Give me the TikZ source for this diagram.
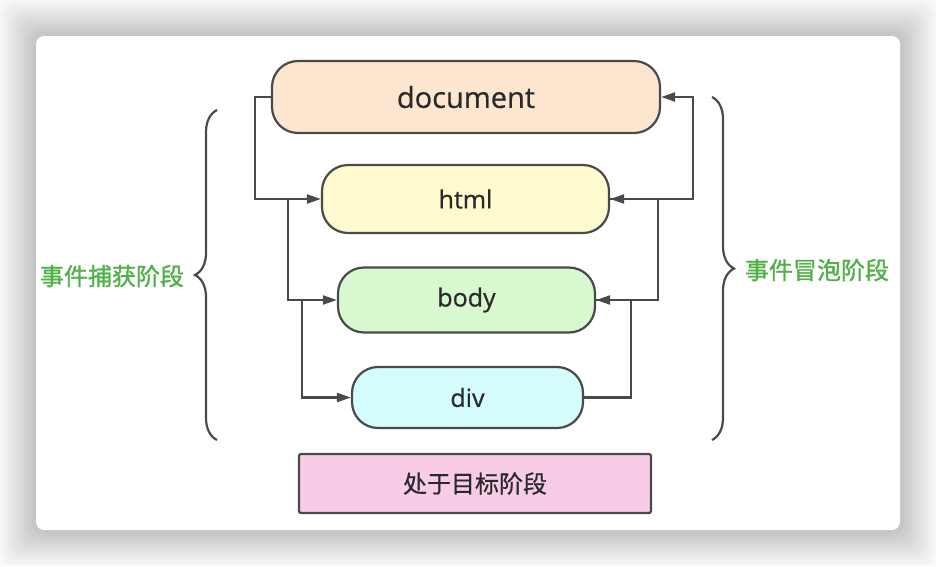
\documentclass[tikz,border=0pt]{standalone}
\usepackage{fontspec}
\setmainfont{Open Sans}[FakeBold=0.6]
\newfontfamily\cjk{Noto Sans CJK SC}[FakeBold=0.6]
\newfontfamily\cjkbold{Noto Sans CJK SC}[FakeBold=1.4]
\usetikzlibrary{arrows.meta, decorations.pathreplacing}
\definecolor{docfill}{HTML}{FCE6D0}
\definecolor{htmlfill}{HTML}{FFFAD0}
\definecolor{bodyfill}{HTML}{D8F8D0}
\definecolor{divfill}{HTML}{D4FCFC}
\definecolor{tgtfill}{HTML}{F8CCE6}
\definecolor{linegray}{HTML}{4A4A4A}
\definecolor{textgray}{HTML}{2A2A2A}
\definecolor{phasegreen}{HTML}{52B048}

\begin{document}
\begin{tikzpicture}[x=1pt, y=-1pt, >={Triangle[length=14pt,width=9pt]},
    box/.style={draw=linegray, line width=2.2pt, rounded corners=26pt, inner sep=0pt, text=textgray},
    link/.style={draw=linegray, line width=2.2pt},
    phase/.style={text=phasegreen, font=\cjkbold\fontsize{24}{24}\selectfont},
    bracket/.style={draw=linegray, line width=2.2pt, decorate, decoration={brace, amplitude=22pt}}]
    % 背景与卡片
    \useasboundingbox (0,0) rectangle (936,566);
    \fill[gray!4] (0,0) rectangle (936,566);
    \foreach \d in {2,4,...,36}
        \fill[black, opacity=0.011, rounded corners=12pt] ({36-\d},{36-\d}) rectangle ({900+\d},{530+\d});
    \fill[white, rounded corners=8pt] (36,36) rectangle (900,530);

    % 节点
    \node[box, fill=docfill, minimum width=388pt, minimum height=72pt, font=\fontsize{29}{29}\selectfont] (doc) at (466,97) {document};
    \node[box, fill=htmlfill, minimum width=287pt, minimum height=68pt, font=\fontsize{25}{25}\selectfont] (html) at (465.5,199) {html};
    \node[box, fill=bodyfill, minimum width=257pt, minimum height=65pt, font=\fontsize{25}{25}\selectfont] (body) at (466.5,300) {body};
    \node[box, fill=divfill, minimum width=231pt, minimum height=61pt, font=\fontsize{25}{25}\selectfont] (div) at (467.5,397.5) {div};
    \node[box, fill=tgtfill, rounded corners=2pt, minimum width=352pt, minimum height=59pt, font=\cjk\fontsize{24}{24}\selectfont] (tgt) at (475,483.5) {处于目标阶段};

    % 捕获
    \draw[link, ->] (doc.west) -- ++(-16,0) |- (html.west);
    \draw[link, ->] ([xshift=-33pt]html.west) |- (body.west);
    \draw[link, ->] ([xshift=-35pt]body.west) |- (div.west);

    % 冒泡
    \draw[link, ->] (div.east) -- ++(47,0) |- (body.east);
    \draw[link, ->] (body.east) -- ++(62,0) |- (html.east);
    \draw[link, ->] (html.east) -- ++(83,0) |- (doc.east);

    % 阶段标注
    \draw[bracket] (217,440) -- (217,110);
    \draw[bracket] (712,97) -- (712,440);
    \node[phase] (cap) at (112,276) {事件捕获阶段};
    \node[phase] (bub) at (817,270) {事件冒泡阶段};
\end{tikzpicture}
\end{document}
